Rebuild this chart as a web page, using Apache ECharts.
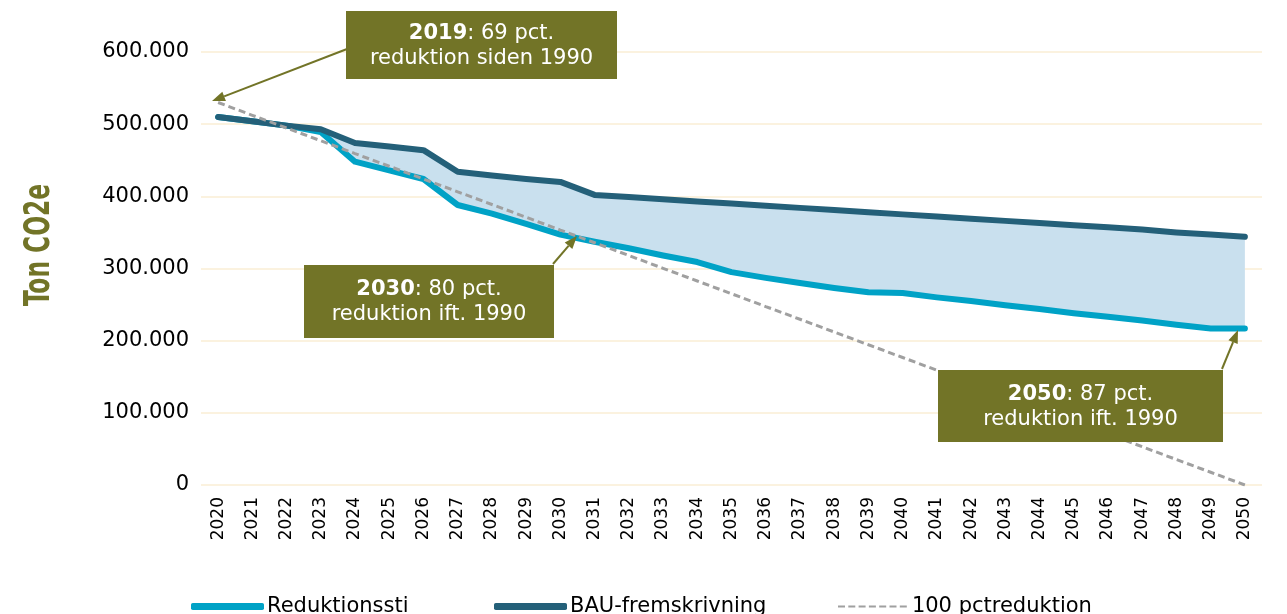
<!DOCTYPE html>
<html>
<head>
<meta charset="utf-8">
<script src="https://cdn.jsdelivr.net/npm/echarts@6/dist/echarts.min.js"></script>
<style>
html,body{margin:0;padding:0;background:#fff;}
#chart{width:1287px;height:614px;}
</style>
</head>
<body>
<div id="chart"></div>
<script>
const years = ['2020','2021','2022','2023','2024','2025','2026','2027','2028','2029','2030','2031','2032','2033','2034','2035','2036','2037','2038','2039','2040','2041','2042','2043','2044','2045','2046','2047','2048','2049','2050'];
const reduktionssti = [510000,504000,498000,489000,448000,436000,424000,388000,376000,362000,347000,337000,328000,318000,309000,295000,287000,280000,273000,267000,266000,260000,255000,249000,244000,238000,233000,228000,222000,217000,217000];
const bau = [510000,504000,498000,493000,474000,469000,464000,434000,429000,424000,420000,402000,399000,396000,393000,390000,387000,384000,381000,378000,375000,372000,369000,366000,363000,360000,357000,354000,350000,347000,344000];
const reduktion100 = [530000,512300,494700,477000,459300,441700,424000,406300,388700,371000,353300,335700,318000,300300,282700,265000,247300,229700,212000,194300,176700,159000,141300,123700,106000,88300,70700,53000,35300,17700,0];
const seriesNames = ['Reduktionssti','BAU-fremskrivning','100 pctreduktion'];
const yTitle = 'Ton CO2e';
const notes = [
  {bold:'2019', rest:': 69 pct.', line2:'reduktion siden 1990'},
  {bold:'2030', rest:': 80 pct.', line2:'reduktion ift. 1990'},
  {bold:'2050', rest:': 87 pct.', line2:'reduktion ift. 1990'}
];

const OLIVE = '#727427';
const CYAN = '#00A2C6';
const DARK = '#246079';
const FILL = '#C9E0EE';
const GRAY = '#A0A0A0';
const FONT = 'DejaVu Sans';

const gap = bau.map((v,i)=>Math.max(0, v - reduktionssti[i]));

function fmt(v){ return String(v).replace(/\B(?=(\d{3})+(?!\d))/g,'.'); }

const chart = echarts.init(document.getElementById('chart'), null, {renderer:'canvas'});

const dashIcon = 'path://M0,0h7v2h-7zM10.3,0h7v2h-7zM20.6,0h7v2h-7zM30.9,0h7v2h-7zM41.2,0h7v2h-7zM51.5,0h7v2h-7zM61.8,0h7v2h-7z';

function legendAt(left, name, icon, h){
  return {
    left: left, top: 591, data:[{name:name, icon:icon}], itemWidth: 73, itemHeight: h, itemGap: 0,
    textStyle:{fontFamily:FONT, fontSize:21, color:'#000', padding:[0,0,0,-2]},
    selectedMode:false
  };
}

function arrow(x1,y1,x2,y2){
  const ang = Math.atan2(y2-y1, x2-x1);
  const L = 13, W = 5;
  const bx = x2 - L*Math.cos(ang), by = y2 - L*Math.sin(ang);
  const px = -Math.sin(ang), py = Math.cos(ang);
  return [
    {type:'line', shape:{x1:x1,y1:y1,x2:bx,y2:by}, style:{stroke:OLIVE, lineWidth:2}, z:100},
    {type:'polygon', shape:{points:[[x2,y2],[bx+px*W,by+py*W],[bx-px*W,by-py*W]]}, style:{fill:OLIVE}, z:100}
  ];
}

function box(x,y,w,h,note){
  return [
    {type:'rect', shape:{x:x,y:y,width:w,height:h}, style:{fill:OLIVE}, z:100},
    {type:'text', x:x+w/2, y:y+h/2+1, z:101,
      style:{
        text:'{b|'+note.bold+'}{n|'+note.rest+'}\n{n|'+note.line2+'}',
        align:'center', verticalAlign:'middle',
        rich:{
          b:{fontFamily:FONT, fontSize:21, fontWeight:'bold', fill:'#fff', color:'#fff', lineHeight:25},
          n:{fontFamily:FONT, fontSize:21, fill:'#fff', color:'#fff', lineHeight:25}
        }
      }}
  ];
}

const hidden = {width:1, opacity:0};

const option = {
  animation:false,
  backgroundColor:'#fff',
  grid:{left:201, right:25, top:52, bottom:129},
  legend:[
    legendAt(186, seriesNames[0], 'roundRect', 7),
    legendAt(489, seriesNames[1], 'roundRect', 7),
    legendAt(833, seriesNames[2], dashIcon, 2)
  ],
  xAxis:{
    type:'category', data:years, boundaryGap:true,
    axisLine:{show:false}, axisTick:{show:false},
    axisLabel:{rotate:90, margin:12, fontFamily:FONT, fontSize:17, color:'#000', interval:0}
  },
  yAxis:{
    type:'value', min:0, max:600000, interval:100000,
    axisLine:{show:false}, axisTick:{show:false},
    splitLine:{lineStyle:{color:'#FBF2DF', width:2}},
    axisLabel:{formatter:fmt, fontFamily:FONT, fontSize:21, color:'#000', margin:12}
  },
  series:[
    {name:'base', type:'line', data:reduktionssti, stack:'band', stackStrategy:'all', symbol:'none', lineStyle:hidden, silent:true},
    {name:'band', type:'line', data:gap, stack:'band', stackStrategy:'all', symbol:'none', lineStyle:hidden, areaStyle:{color:FILL, opacity:1}, silent:true},
    {name:seriesNames[0], type:'line', data:reduktionssti, symbol:'none', lineStyle:{color:CYAN, width:6, cap:'round', join:'round'}, itemStyle:{color:CYAN}},
    {name:seriesNames[1], type:'line', data:bau, symbol:'none', lineStyle:{color:DARK, width:6, cap:'round', join:'round'}, itemStyle:{color:DARK}},
    {name:seriesNames[2], type:'line', data:reduktion100, symbol:'none', lineStyle:{color:GRAY, width:3, type:[7,4]}, itemStyle:{color:GRAY}}
  ],
  graphic:[
    {type:'text', x:40, y:245, rotation:Math.PI/2, scaleX:0.72, z:50,
      style:{text:yTitle, fontFamily:'DejaVu Sans Condensed', fontWeight:'bold', fontSize:36, fill:OLIVE, align:'center', verticalAlign:'middle'}},
    ...arrow(347,49,212,101),
    ...arrow(553,264,577,236),
    ...arrow(1222,369,1238,330),
    ...box(346,11,271,68,notes[0]),
    ...box(304,265,250,73,notes[1]),
    ...box(938,370,285,72,notes[2])
  ]
};
chart.setOption(option);
</script>
</body>
</html>
